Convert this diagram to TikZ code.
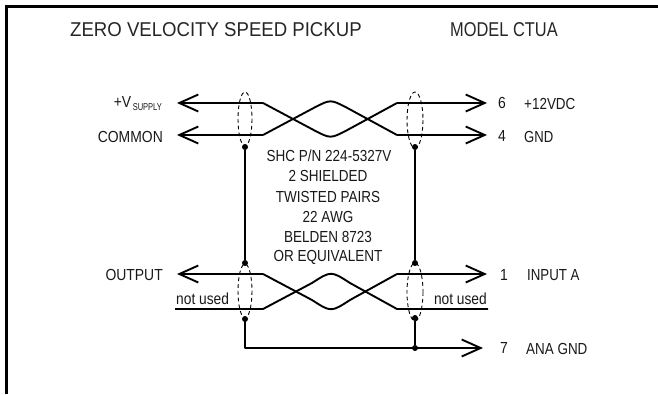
\documentclass[tikz,border=0pt]{standalone}
\usepackage{fontspec}
\setmainfont{Liberation Sans}
\usepackage{graphicx}
\usetikzlibrary{arrows.meta}
\newcommand{\sx}[2]{\scalebox{#1}[1]{#2}}
\tikzset{
  px/.style={x=1pt,y=-1pt},
  wire/.style={line width=1.9pt,line join=round},
  barb/.style={wire,-{Straight Barb[length=19pt,width=17pt,line width=1.9pt]}},
  shield/.style={line width=0.9pt,dash pattern=on 3.8pt off 3pt},
  lbl/.style={inner sep=0pt,text=black!90,font=\fontsize{16}{18}\selectfont},
  titlelbl/.style={inner sep=0pt,text=black!85,font=\fontsize{20}{22}\selectfont,anchor=west},
  dotn/.style={circle,fill=black,inner sep=0pt,minimum size=6pt},
}
\begin{document}
\begin{tikzpicture}[px]
\useasboundingbox (0,0) rectangle (658,394);
\fill[white] (0,0) rectangle (658,394);
\draw[line width=2.8pt] (6.5,394) -- (6.5,6.5) -- (658,6.5);
% titles
\node[titlelbl] (t1) at (70,30) {\sx{0.93}{ZERO VELOCITY SPEED PICKUP}};
\node[titlelbl] (t2) at (450,30) {\sx{0.82}{MODEL CTUA}};
% terminals
\coordinate (a1) at (177,103); \coordinate (a2) at (177,135);
\coordinate (r1) at (487,103); \coordinate (r2) at (487,135);
\coordinate (b1) at (177,274); \coordinate (b2) at (175,309);
\coordinate (s1) at (487,274); \coordinate (s2) at (488,309);
\coordinate (g) at (483,348);
% upper twisted pair
\draw[barb] (397,103) -- (r1);
\draw[barb] (397,135) -- (r2);
\draw[barb] (263,103) -- (a1);
\draw[barb] (263,135) -- (a2);
\draw[wire] (263,103) -- (314,130.2) .. controls (330.5,138.8) and (330.5,138.8) .. (347,130.2) -- (397,103);
\draw[wire] (397,135) -- (347,107.8) .. controls (330.5,99.2) and (330.5,99.2) .. (314,107.8) -- (263,135);
% lower twisted pair
\draw[barb] (263,274) -- (b1);
\draw[barb] (397,274) -- (s1);
\draw[wire] (b2) -- (263,309) -- (312,283) .. controls (331,270.7) and (331,270.7) .. (350,283) -- (397,309) -- (s2);
\draw[wire] (263,274) -- (312,300) .. controls (331,312.3) and (331,312.3) .. (350,300) -- (397,274);
% shields
\draw[shield] (245,119) ellipse [x radius=7,y radius=27];
\draw[shield] (415,120) ellipse [x radius=8,y radius=28];
\draw[shield] (245,291) ellipse [x radius=7,y radius=27];
\draw[shield] (415,292) ellipse [x radius=8,y radius=29];
% drains
\node[dotn] (d1) at (245,147) {};
\node[dotn] (d2) at (415,147) {};
\node[dotn] (d3) at (245,263) {};
\node[dotn] (d4) at (415,263) {};
\node[dotn] (d5) at (245,319) {};
\node[dotn] (d6) at (415,318) {};
\node[dotn] (d7) at (415,348) {};
\draw[wire] (d1) -- (d3);
\draw[wire] (d2) -- (d4);
\draw[wire] (d6) -- (d7);
\draw[barb] (d5.center) |- (g);
% left labels
\node[lbl,anchor=east] (l1) at (162,103.5) {\sx{0.87}{+V}\hspace{1.5pt}{\fontsize{10}{11}\selectfont\raisebox{-3pt}{\sx{0.75}{SUPPLY}}}};
\node[lbl,anchor=east] (l2) at (163,137) {\sx{0.87}{COMMON}};
\node[lbl,anchor=east] (l3) at (163,275) {\sx{0.87}{OUTPUT}};
\node[lbl,anchor=west] (l4) at (176,299) {\sx{0.86}{not used}};
\node[lbl,anchor=east] (l5) at (487,299) {\sx{0.86}{not used}};
% pin numbers
\node[lbl] (p6) at (502,103) {\sx{0.87}{6}};
\node[lbl] (p4) at (502,136) {\sx{0.87}{4}};
\node[lbl] (p1) at (504,275) {\sx{0.87}{1}};
\node[lbl] (p7) at (504,348) {\sx{0.87}{7}};
% pin names
\node[lbl,anchor=west] (n6) at (524,103.5) {\sx{0.84}{+12VDC}};
\node[lbl,anchor=west] (n4) at (524,137) {\sx{0.82}{GND}};
\node[lbl,anchor=west] (n1) at (527,275) {\sx{0.83}{INPUT A}};
\node[lbl,anchor=west] (n7) at (526,348.5) {\sx{0.84}{ANA GND}};
% cable text
\node[lbl] (c1) at (329,156) {\sx{0.845}{SHC P/N 224-5327V}};
\node[lbl] (c2) at (328,176) {\sx{0.845}{2 SHIELDED}};
\node[lbl] (c3) at (328,197) {\sx{0.845}{TWISTED PAIRS}};
\node[lbl] (c4) at (328,217) {\sx{0.845}{22 AWG}};
\node[lbl] (c5) at (328,237) {\sx{0.845}{BELDEN 8723}};
\node[lbl] (c6) at (328,257) {\sx{0.845}{OR EQUIVALENT}};
\end{tikzpicture}
\end{document}
